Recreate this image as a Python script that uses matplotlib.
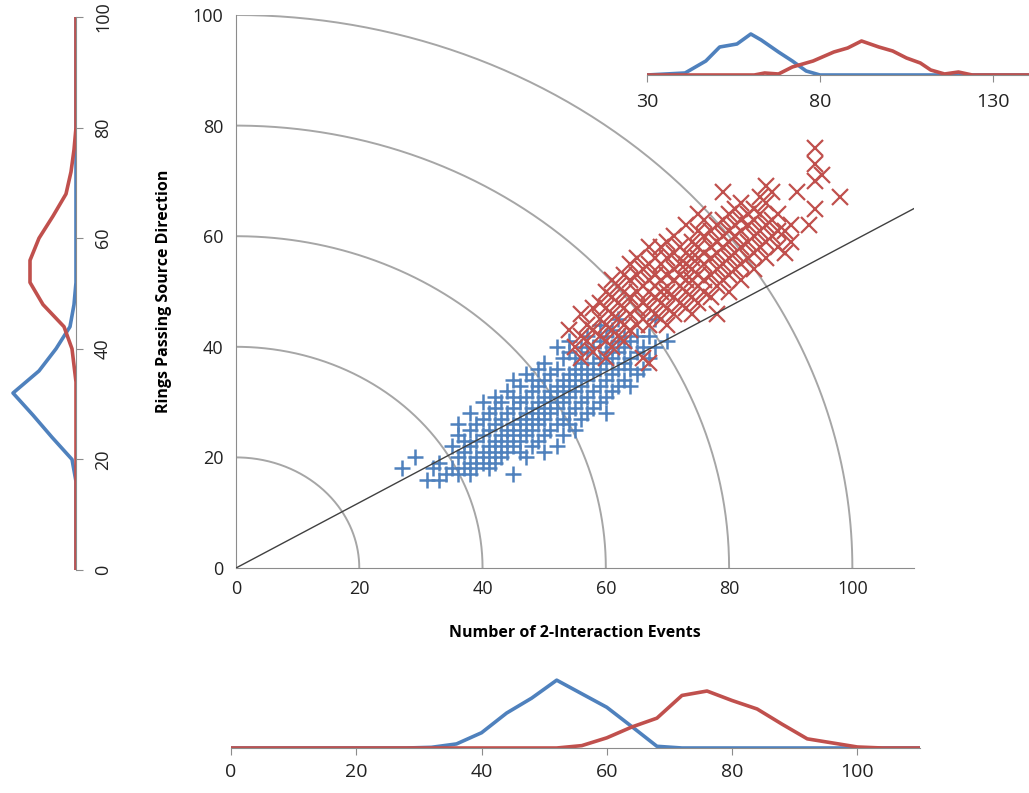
import numpy as np
import matplotlib
matplotlib.use("Agg")
import matplotlib.pyplot as plt

plt.rcParams["font.family"] = ["Open Sans", "DejaVu Sans"]

BLUE = "#4F81BD"
RED = "#C0504D"
GREY = "#8c8c8c"

# ---- scatter data (integer grid) ----
blue_cols = {
    27: [18], 29: [20], 31: [16], 32: [18], 33: [16, 19], 34: [17],
    35: [18, 22], 36: [17, 20, 24, 26], 37: [18, 21, 23],
    38: [17, 19, 22, 25, 28], 39: [18, 20, 23, 26],
    40: [19, 21, 24, 27, 30], 41: [18, 20, 22, 25, 28],
    42: [19, 21, 23, 26, 29, 31], 43: [20, 22, 24, 27, 30],
    44: [21, 23, 25, 28, 32], 45: [17, 22, 24, 26, 29, 31, 34],
    46: [21, 23, 25, 27, 30, 33], 47: [20, 24, 26, 28, 31, 35],
    48: [22, 25, 27, 29, 32, 34], 49: [23, 26, 28, 30, 33, 36],
    50: [21, 24, 27, 29, 31, 34, 37], 51: [25, 28, 30, 32, 35],
    52: [22, 26, 29, 31, 33, 36, 40], 53: [24, 27, 30, 32, 34, 38],
    54: [26, 28, 31, 33, 35, 39, 41], 55: [25, 29, 32, 34, 36, 38],
    56: [27, 30, 33, 35, 37, 40], 57: [28, 31, 34, 36, 39, 42],
    58: [29, 32, 35, 37, 40], 59: [30, 33, 36, 38, 41, 44],
    60: [28, 31, 34, 37, 39, 42], 61: [32, 35, 38, 40, 43],
    62: [33, 36, 39, 41, 45], 63: [34, 37, 40, 42], 64: [33, 36, 38, 41],
    65: [35, 39, 42], 66: [36, 40], 67: [38, 42], 68: [40, 45], 70: [41],
}
red_cols = {
    54: [43], 55: [40], 56: [38, 42, 46], 57: [41, 44], 58: [39, 43, 47],
    59: [42, 45, 48], 60: [38, 41, 44, 47, 50], 61: [40, 43, 46, 49, 52],
    62: [42, 45, 48, 51], 63: [41, 44, 47, 50, 53], 64: [43, 46, 49, 52, 55],
    65: [44, 47, 50, 53, 56], 66: [38, 45, 48, 51, 54],
    67: [37, 44, 47, 50, 52, 55, 58], 68: [46, 49, 51, 53, 56],
    69: [45, 48, 50, 52, 55, 58], 70: [44, 47, 50, 53, 56, 59],
    71: [46, 49, 52, 54, 57, 60], 72: [48, 51, 53, 55, 58],
    73: [47, 50, 52, 55, 57, 62], 74: [46, 49, 52, 54, 56, 59],
    75: [48, 51, 53, 56, 58, 61, 64], 76: [50, 52, 55, 57, 60, 63],
    77: [49, 53, 56, 58, 61], 78: [46, 51, 54, 57, 59, 62],
    79: [52, 55, 58, 60, 63, 68], 80: [50, 53, 56, 59, 61, 64],
    81: [54, 57, 60, 62, 65], 82: [52, 55, 58, 61, 63, 66],
    83: [56, 59, 62, 64], 84: [54, 57, 60, 63, 65], 85: [58, 61, 64, 67],
    86: [56, 59, 62, 66, 69], 87: [60, 63, 68], 88: [58, 61, 64],
    89: [57, 61], 90: [59, 62], 91: [68], 93: [62],
    94: [65, 70, 73, 76], 95: [71], 98: [67],
}
blue_x = [x for x, ys in blue_cols.items() for _ in ys]
blue_y = [y for ys in blue_cols.values() for y in ys]
red_x = [x for x, ys in red_cols.items() for _ in ys]
red_y = [y for ys in red_cols.values() for y in ys]

ring_radii = [20, 40, 60, 80, 100]
line_x = [0, 110]
line_y = [0, 65]

# ---- marginal profiles ----
bot_x_blue = [0, 28, 32, 36, 40, 44, 48, 52, 56, 60, 64, 68, 72, 110]
bot_v_blue = [0, 0, 2, 12, 45, 103, 147, 200, 160, 120, 63, 5, 0, 0]
bot_x_red = [0, 52, 56, 60, 64, 68, 72, 76, 80, 84, 88, 92, 96, 100, 104, 110]
bot_v_red = [0, 0, 7, 30, 62, 88, 155, 168, 140, 115, 70, 27, 15, 3, 0, 0]

left_y_blue = [0, 16, 20, 24, 28, 32, 36, 40, 44, 48, 52, 100]
left_v_blue = [0, 0, 4, 24, 43, 63, 37, 20, 6, 2, 0, 0]
left_y_red = [0, 34, 40, 44, 48, 52, 56, 60, 64, 68, 72, 76, 80, 100]
left_v_red = [0, 0, 4, 12, 33, 46, 46, 37, 23, 10, 5, 2, 0, 0]

top_x_blue = [30, 41, 47, 51, 56, 60, 63, 68, 72, 76, 80, 141]
top_v_blue = [0, 2, 14, 28, 31, 41, 35, 23, 14, 4, 0, 0]
top_x_red = [30, 61, 64, 68, 72, 78, 84, 88, 92, 97, 101, 105, 109, 112, 116, 120, 124, 141]
top_v_red = [0, 0, 2, 1, 8, 14, 23, 27, 34, 28, 24, 17, 12, 5, 1, 3, 0, 0]

W, H = 1029, 793
fig = plt.figure(figsize=(W / 100, H / 100), dpi=100)


def box(x0, y0, x1, y1):
    # pixel box -> figure fraction rect
    return [x0 / W, 1 - y1 / H, (x1 - x0) / W, (y1 - y0) / H]


# ---- main scatter ----
ax = fig.add_axes(box(236, 15, 914, 568))
ax.set_xlim(0, 110)
ax.set_ylim(0, 100)
t = np.linspace(0, np.pi / 2, 200)
for r in ring_radii:
    ax.plot(r * np.cos(t), r * np.sin(t), color="#a6a6a6", lw=1.4, zorder=1)
ax.plot(blue_x, blue_y, "+", color=BLUE, ms=12, mew=1.8, ls="none", zorder=2)
ax.plot(red_x, red_y, "x", color=RED, ms=11, mew=1.6, ls="none", zorder=2.5)
ax.plot(line_x, line_y, color="#404040", lw=1.0, zorder=3)
for s in ["top", "right"]:
    ax.spines[s].set_visible(False)
for s in ["left", "bottom"]:
    ax.spines[s].set_color(GREY)
ax.set_xticks([0, 20, 40, 60, 80, 100])
ax.set_yticks([0, 20, 40, 60, 80, 100])
ax.tick_params(length=0, labelsize=13, colors="#222222", pad=9)
ax.set_xlabel("Number of 2-Interaction Events", fontsize=11.5, fontweight="bold", labelpad=19)
ax.set_ylabel("Rings Passing Source Direction", fontsize=11.5, fontweight="bold", labelpad=15)

# ---- bottom marginal ----
axb = fig.add_axes(box(231, 670, 920, 748))
axb.plot(bot_x_blue, bot_v_blue, color=BLUE, lw=2.6)
axb.plot(bot_x_red, bot_v_red, color=RED, lw=2.6)
axb.set_xlim(0, 110)
axb.set_ylim(0, 230)
for s in ["top", "right", "left"]:
    axb.spines[s].set_visible(False)
axb.spines["bottom"].set_color(GREY)
axb.set_yticks([])
axb.set_xticks([0, 20, 40, 60, 80, 100])
axb.set_xticklabels(["0", "20", "40", "60", "80", "100"], fontsize=14)
axb.tick_params(axis="x", length=5, colors=GREY, labelcolor="#222222", pad=6)

# ---- left marginal (rotated) ----
axl = fig.add_axes(box(4, 17, 76, 570))
axl.plot(left_v_blue, left_y_blue, color=BLUE, lw=2.6)
axl.plot(left_v_red, left_y_red, color=RED, lw=2.6)
axl.set_ylim(0, 100)
axl.set_xlim(72, 0)
for s in ["top", "left", "bottom"]:
    axl.spines[s].set_visible(False)
axl.spines["right"].set_color(GREY)
axl.set_xticks([])
axl.yaxis.tick_right()
axl.set_yticks([0, 20, 40, 60, 80, 100])
axl.set_yticklabels(["0", "20", "40", "60", "80", "100"], fontsize=13, rotation=90, va="center")
axl.tick_params(axis="y", length=5, colors=GREY, labelcolor="#222222", pad=8)

# ---- top-right inset ----
axt = fig.add_axes(box(647, 28, 1029, 75))
axt.plot(top_x_blue, top_v_blue, color=BLUE, lw=2.6)
axt.plot(top_x_red, top_v_red, color=RED, lw=2.6)
axt.set_xlim(30, 140.4)
axt.set_ylim(0, 47)
for s in ["top", "right", "left"]:
    axt.spines[s].set_visible(False)
axt.spines["bottom"].set_color(GREY)
axt.set_yticks([])
axt.set_xticks([30, 80, 130])
axt.set_xticklabels(["30", "80", "130"], fontsize=14)
axt.tick_params(axis="x", length=5, colors=GREY, labelcolor="#222222", pad=8)

fig.savefig("out.png", dpi=100)
